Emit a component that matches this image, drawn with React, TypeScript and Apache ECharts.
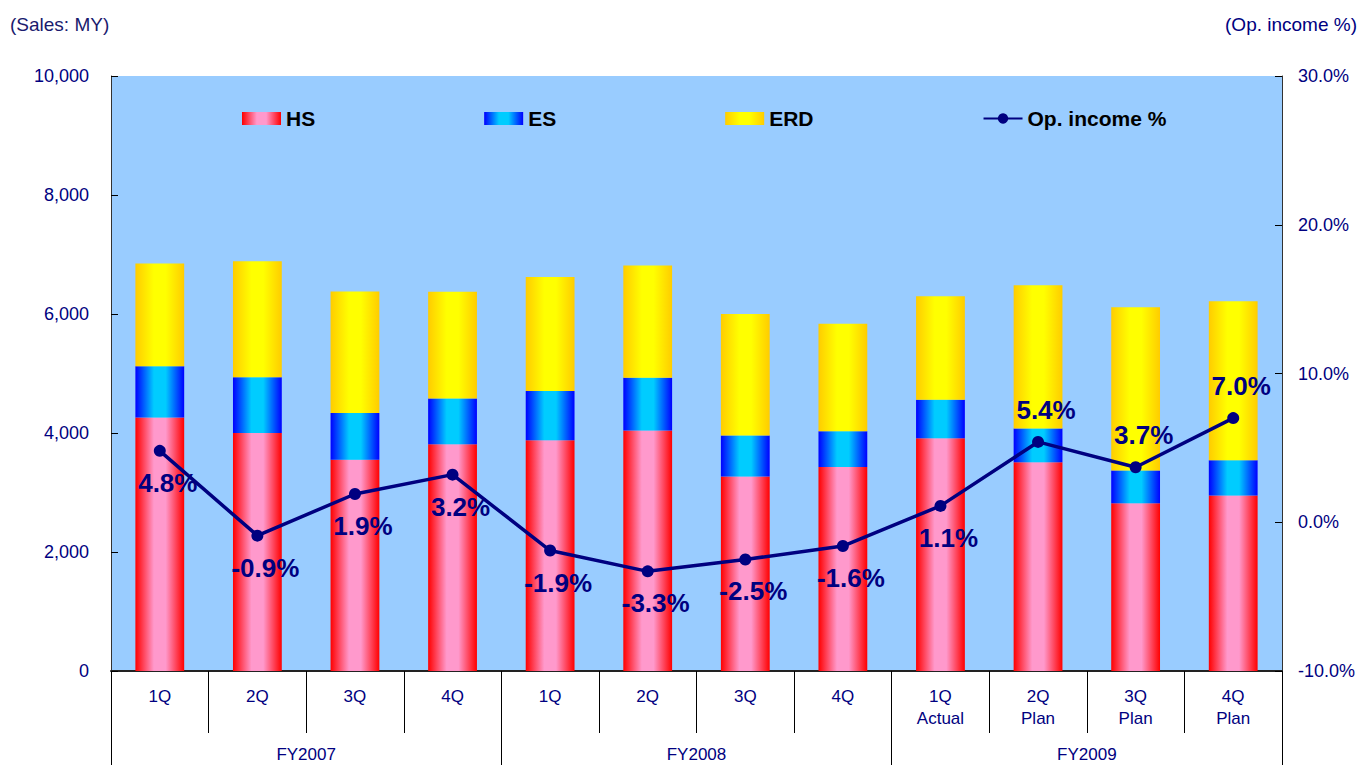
import React, { useEffect, useRef } from "react";
import * as echarts from "echarts";

const QUARTERS = ["1Q", "2Q", "3Q", "4Q", "1Q", "2Q", "3Q", "4Q", "1Q\nActual", "2Q\nPlan", "3Q\nPlan", "4Q\nPlan"];
const FISCAL_YEARS = ["FY2007", "FY2008", "FY2009"];
const HS = [4260, 4000, 3550, 3810, 3880, 4040, 3270, 3430, 3910, 3510, 2820, 2950];
const ES = [860, 935, 785, 770, 825, 890, 690, 600, 650, 565, 550, 590];
const ERD = [1730, 1950, 2045, 1795, 1915, 1885, 2040, 1805, 1740, 2410, 2745, 2675];
const OP_INCOME = [4.8, -0.9, 1.9, 3.2, -1.9, -3.3, -2.5, -1.6, 1.1, 5.4, 3.7, 7.0];
const LABEL_ABOVE = [false, false, false, false, false, false, false, false, false, true, true, true];

const FONT = "'Liberation Sans', Arial, sans-serif";
const NAVY = "#000080";

const hGrad = (edge: string, mid: string) =>
  new echarts.graphic.LinearGradient(0, 0, 1, 0, [
    { offset: 0, color: edge },
    { offset: 0.38, color: mid },
    { offset: 0.62, color: mid },
    { offset: 1, color: edge },
  ]);

export default function App() {
  const ref = useRef<HTMLDivElement>(null);
  useEffect(() => {
    if (!ref.current) return;
    const chart = echarts.init(ref.current, null, { renderer: "svg" });
    const option: any = {
      animation: false,
      textStyle: { fontFamily: FONT },
      grid: {
        left: 111,
        right: 80,
        top: 76,
        bottom: 94,
        show: true,
        backgroundColor: "#99CCFF",
        borderWidth: 0,
      },
      legend: {
        left: 242,
        top: 108,
        padding: 0,
        itemGap: 169,
        itemWidth: 39,
        itemHeight: 13,
        textStyle: { fontSize: 21, fontWeight: "bold", color: "#000", fontFamily: FONT },
        data: [
          { name: "HS", icon: "rect" },
          { name: "ES", icon: "rect" },
          { name: "ERD", icon: "rect" },
          { name: "Op. income %" },
        ],
      },
      graphic: [
        {
          type: "text",
          left: 10,
          top: 15,
          style: { text: "(Sales: MY)", fill: "#1a1a6e", font: `19px ${FONT}` },
        },
        {
          type: "text",
          right: 5,
          top: 15,
          style: { text: "(Op. income %)", fill: NAVY, font: `19px ${FONT}` },
        },
      ],
      xAxis: [
        {
          type: "category",
          data: QUARTERS,
          position: "bottom",
          axisLine: { show: true, onZero: false, lineStyle: { color: "#222", width: 2 } },
          axisTick: { show: true, length: 62, lineStyle: { color: "#000", width: 1 } },
          axisLabel: { color: NAVY, fontSize: 17, lineHeight: 22, margin: 14, fontFamily: FONT, interval: 0 },
        },
        {
          type: "category",
          data: FISCAL_YEARS,
          position: "bottom",
          offset: 62,
          axisLine: { show: false, onZero: false },
          axisTick: { show: true, length: 40, lineStyle: { color: "#000", width: 1 } },
          axisLabel: { color: NAVY, fontSize: 17, margin: 13, fontFamily: FONT },
        },
      ],
      yAxis: [
        {
          type: "value",
          min: 0,
          max: 10000,
          interval: 2000,
          splitLine: { show: false },
          axisLine: { show: true, lineStyle: { color: "#333", width: 1 } },
          axisTick: { show: true, inside: true, length: 7, lineStyle: { color: "#000" } },
          axisLabel: {
            color: NAVY,
            fontSize: 18,
            margin: 22,
            fontFamily: FONT,
            formatter: (v: number) => v.toLocaleString("en-US"),
          },
        },
        {
          type: "value",
          min: -10,
          max: 30,
          interval: 10,
          splitLine: { show: false },
          axisLine: { show: true, lineStyle: { color: "#333", width: 1 } },
          axisTick: { show: true, inside: true, length: 7, lineStyle: { color: "#000" } },
          axisLabel: {
            color: NAVY,
            fontSize: 18,
            margin: 16,
            fontFamily: FONT,
            formatter: (v: number) => v.toFixed(1) + "%",
          },
        },
      ],
      series: [
        {
          name: "HS",
          type: "bar",
          stack: "sales",
          barWidth: "50%",
          data: HS,
          itemStyle: { color: hGrad("#FF0000", "#FF99CC") },
        },
        {
          name: "ES",
          type: "bar",
          stack: "sales",
          barWidth: "50%",
          data: ES,
          itemStyle: { color: hGrad("#0000FF", "#00CCFF") },
        },
        {
          name: "ERD",
          type: "bar",
          stack: "sales",
          barWidth: "50%",
          data: ERD,
          itemStyle: { color: hGrad("#FFCC00", "#FFFF00") },
        },
        {
          name: "Op. income %",
          type: "line",
          yAxisIndex: 1,
          z: 5,
          symbol: "circle",
          symbolSize: 12,
          lineStyle: { color: NAVY, width: 3.5 },
          itemStyle: { color: NAVY },
          data: OP_INCOME.map((v, i) => ({
            value: v,
            label: { position: LABEL_ABOVE[i] ? "top" : "bottom" },
          })),
          label: {
            show: true,
            distance: 13,
            offset: [8, 0],
            color: NAVY,
            fontSize: 26,
            fontWeight: "bold",
            fontFamily: FONT,
            formatter: (p: any) => Number(p.value).toFixed(1) + "%",
          },
        },
      ],
    };
    chart.setOption(option);
    return () => chart.dispose();
  }, []);
  return (
    <div
      ref={ref}
      style={{ position: "fixed", left: 0, top: 0, width: 1362, height: 765, background: "#fff" }}
    />
  );
}
